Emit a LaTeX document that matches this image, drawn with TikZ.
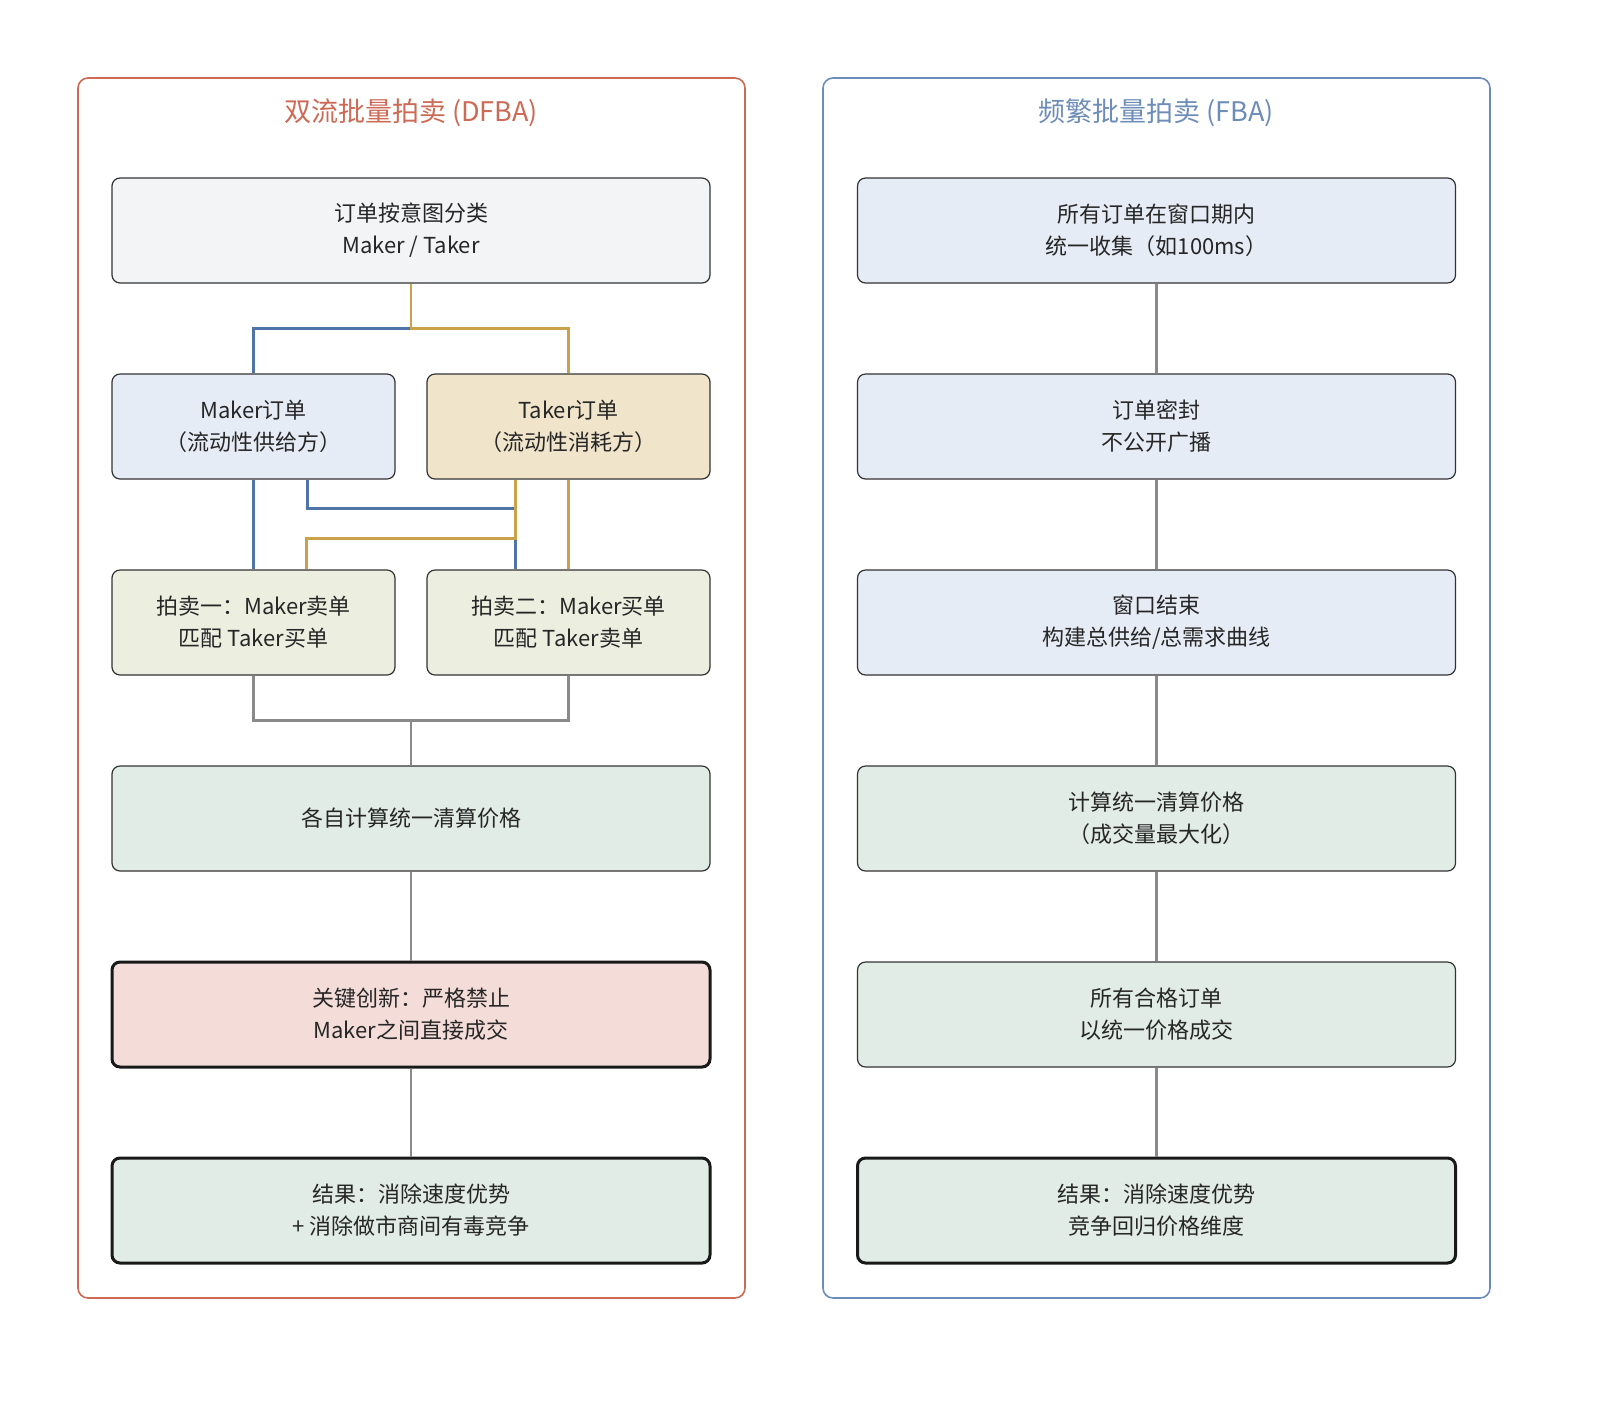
\documentclass[tikz,border=0pt]{standalone}
\usepackage{fontspec}
\setmainfont{Noto Sans CJK SC}
\definecolor{cred}{HTML}{CC6A55}
\definecolor{cblue}{HTML}{6D8DB8}
\definecolor{lblue}{HTML}{4F74A8}
\definecolor{lgold}{HTML}{C9A24A}
\definecolor{lgray}{HTML}{8A8A8A}
\definecolor{fgray}{HTML}{F2F4F6}
\definecolor{fblue}{HTML}{E6ECF5}
\definecolor{fgold}{HTML}{F0E5CB}
\definecolor{folive}{HTML}{ECEFE0}
\definecolor{fgreen}{HTML}{E1ECE6}
\definecolor{fpink}{HTML}{F4DDD8}
\begin{document}
\begin{tikzpicture}[x=0.5pt,y=-0.5pt,
  box/.style={draw=black!80,rounded corners=4pt,line width=0.6pt,minimum height=52.5pt,align=center,font=\fontsize{11}{16}\selectfont,text=black!85},
  wide/.style={box,minimum width=299pt},
  half/.style={box,minimum width=141.5pt},
  strong/.style={line width=1.5pt,draw=black!90},
  con/.style={line width=1.2pt}]
\useasboundingbox (0,0) rectangle (1600,1404);
\node[draw=cred,rounded corners=5pt,line width=0.8pt,minimum width=333.5pt,minimum height=610pt] (lp) at (411.5,688) {};
\node[draw=cblue,rounded corners=5pt,line width=0.8pt,minimum width=333.5pt,minimum height=610pt] (rp) at (1156.5,688) {};
\node[text=cred,font=\fontsize{13.5}{16}\selectfont] (lt) at (411,113) {双流批量拍卖 (DFBA)};
\node[text=cblue,font=\fontsize{13.5}{16}\selectfont] (rt) at (1156,113) {频繁批量拍卖 (FBA)};
% left
\node[wide,fill=fgray] (l1) at (411,230.5) {订单按意图分类\\Maker / Taker};
\node[half,fill=fblue] (mk) at (253.5,426.5) {Maker订单\\（流动性供给方）};
\node[half,fill=fgold] (tk) at (568.5,426.5) {Taker订单\\（流动性消耗方）};
\node[half,fill=folive] (a1) at (253.5,622.5) {拍卖一：Maker卖单\\匹配 Taker买单};
\node[half,fill=folive] (a2) at (568.5,622.5) {拍卖二：Maker买单\\匹配 Taker卖单};
\node[wide,fill=fgreen] (l4) at (411,818.5) {各自计算统一清算价格};
\node[wide,fill=fpink,strong] (l5) at (411,1014.5) {关键创新：严格禁止\\Maker之间直接成交};
\node[wide,fill=fgreen,strong] (l6) at (411,1210.5) {结果：消除速度优势\\+ 消除做市商间有毒竞争};
\draw[con,lblue] (l1.south) -- ++(0,45) -| (mk.north);
\draw[con,lgold] (l1.south) -- ++(0,45) -| (tk.north);
\draw[con,lblue] (mk.south) -- (a1.north);
\draw[con,lgold] (tk.south) -- (a2.north);
\draw[con,lblue] (mk.south) ++(54,0) -- ++(0,29) -| ([xshift=-26.5pt]a2.north);
\draw[con,lgold] (tk.south) ++(-53,0) -- ++(0,59) -| ([xshift=26.5pt]a1.north);
\draw[con,lgray] (a1.south) -- ++(0,45) -| (a2.south);
\draw[con,lgray] (l4.north) -- ++(0,-46);
\draw[con,lgray] (l4) -- (l5);
\draw[con,lgray] (l5) -- (l6);
% right
\node[wide,fill=fblue] (r1) at (1156.5,230.5) {所有订单在窗口期内\\统一收集（如100ms）};
\node[wide,fill=fblue] (r2) at (1156.5,426.5) {订单密封\\不公开广播};
\node[wide,fill=fblue] (r3) at (1156.5,622.5) {窗口结束\\构建总供给/总需求曲线};
\node[wide,fill=fgreen] (r4) at (1156.5,818.5) {计算统一清算价格\\（成交量最大化）};
\node[wide,fill=fgreen] (r5) at (1156.5,1014.5) {所有合格订单\\以统一价格成交};
\node[wide,fill=fgreen,strong] (r6) at (1156.5,1210.5) {结果：消除速度优势\\竞争回归价格维度};
\foreach \a/\b in {r1/r2,r2/r3,r3/r4,r4/r5,r5/r6} \draw[con,lgray] (\a) -- (\b);
\end{tikzpicture}
\end{document}
